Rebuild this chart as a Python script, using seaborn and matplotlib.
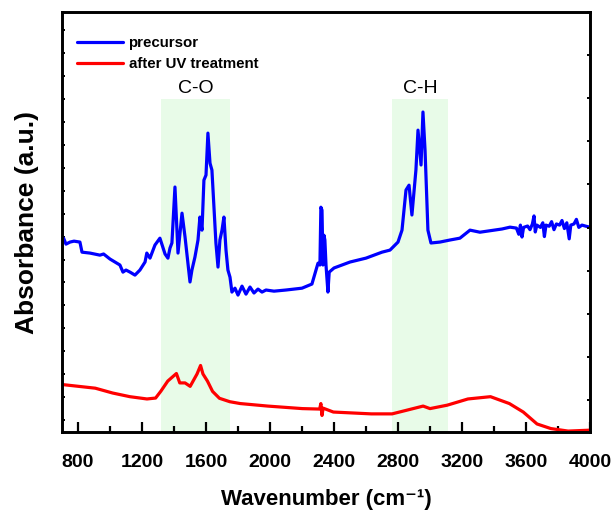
import matplotlib
matplotlib.use("Agg")
import matplotlib.pyplot as plt
from matplotlib.ticker import MultipleLocator, NullFormatter
import seaborn as sns
import pandas as pd

# FTIR spectra (wavenumber in cm^-1, absorbance in arbitrary units)
precursor_wn = [700, 710, 725, 750, 775, 812, 825, 875, 937, 960, 1000, 1062, 1081, 1100,
                1125, 1156, 1187, 1219, 1230, 1250, 1281, 1312, 1344, 1362, 1375, 1387,
                1406, 1425, 1450, 1469, 1487, 1500, 1512, 1531, 1550, 1562, 1575, 1587,
                1600, 1612, 1625, 1637, 1650, 1662, 1675, 1687, 1700, 1712, 1725, 1737,
                1750, 1762, 1781, 1800, 1825, 1850, 1875, 1900, 1925, 1950, 1975, 2025,
                2100, 2200, 2262, 2287, 2300, 2312, 2318, 2325, 2331, 2337, 2343, 2350,
                2362, 2370, 2400, 2500, 2600, 2700, 2750, 2800, 2825, 2850, 2869, 2887,
                2912, 2925, 2944, 2956, 2969, 2987, 3006, 3062, 3125, 3187, 3250, 3312,
                3400, 3450, 3500, 3540, 3555, 3565, 3575, 3585, 3610, 3625, 3640, 3650,
                3658, 3668, 3690, 3705, 3715, 3725, 3745, 3760, 3775, 3790, 3810, 3825,
                3840, 3855, 3870, 3880, 3900, 3915, 3930, 3950, 3975, 4000]
precursor_abs = [7.85, 7.93, 7.67, 7.76, 7.80, 7.76, 7.32, 7.28, 7.19, 7.24, 7.02, 6.76, 6.45, 6.54,
                 6.45, 6.32, 6.54, 6.89, 7.28, 7.06, 7.63, 7.93, 7.24, 7.06, 7.50, 7.72,
                 10.16, 7.28, 9.02, 7.98, 6.84, 6.02, 6.54, 7.11, 7.85, 8.85, 8.28, 10.46,
                 10.68, 12.51, 11.20, 10.90, 9.28, 7.72, 6.67, 7.85, 8.28, 8.85, 7.41, 6.54,
                 6.23, 5.58, 5.75, 5.45, 5.84, 5.49, 5.80, 5.54, 5.71, 5.58, 5.67, 5.62,
                 5.67, 5.75, 5.93, 6.54, 6.84, 6.76, 9.28, 9.15, 6.76, 8.06, 7.85, 6.76,
                 5.58, 6.45, 6.63, 6.89, 7.06, 7.32, 7.41, 7.76, 8.28, 10.03, 10.24, 8.94,
                 10.90, 12.64, 11.12, 13.43, 11.77, 8.28, 7.72, 7.76, 7.85, 7.93, 8.28, 8.19,
                 8.28, 8.33, 8.41, 8.37, 8.10, 8.50, 7.98, 8.40, 8.46, 8.30, 8.55, 8.90,
                 8.20, 8.50, 8.40, 8.60, 8.00, 8.50, 8.45, 8.65, 8.30, 8.55, 8.50, 8.70,
                 8.35, 8.60, 7.90, 8.50, 8.55, 8.75, 8.40, 8.50, 8.45, 8.41]

treated_wn = [700, 908, 1016, 1124, 1231, 1285, 1318, 1361, 1415, 1436, 1469, 1501, 1544,
              1566, 1581, 1609, 1641, 1684, 1749, 1814, 1986, 2202, 2310, 2318, 2325, 2332,
              2396, 2633, 2763, 2849, 2957, 3000, 3108, 3237, 3378, 3496, 3583, 3669,
              3755, 3863, 4000]
treated_abs = [1.55, 1.39, 1.18, 1.02, 0.92, 0.96, 1.26, 1.70, 2.03, 1.62, 1.62, 1.47, 2.01,
               2.38, 2.01, 1.70, 1.25, 0.95, 0.80, 0.72, 0.61, 0.50, 0.48, 0.72, 0.20, 0.52,
               0.35, 0.27, 0.27, 0.42, 0.61, 0.50, 0.65, 0.92, 1.02, 0.72, 0.35, -0.17,
               -0.37, -0.48, -0.44]

# Highlighted absorption bands
band_labels = ["C-O", "C-H"]
band_lo = [1320, 2765]
band_hi = [1750, 3115]

series_names = ["precursor", "after UV treatment"]
series_colors = ["#0000ff", "#ff0000"]

sns.set_style("ticks")
plt.rcParams["font.family"] = ["Liberation Sans", "DejaVu Sans"]
plt.rcParams.update({"text.color": "black", "axes.labelcolor": "black",
                     "axes.edgecolor": "black", "xtick.color": "black",
                     "ytick.color": "black"})

fig = plt.figure(figsize=(6.14, 5.12), dpi=100)
ax = fig.add_axes([62 / 614, 80 / 512, 528 / 614, 420 / 512])

ylo, yhi = -0.52, 17.79
band_top = 14.0
for lab, lo, hi in zip(band_labels, band_lo, band_hi):
    ax.fill_between([lo, hi], ylo, band_top, color="#e8fbe8", lw=0, zorder=0)
    ax.text((lo + hi) / 2, band_top + 0.45, lab, ha="center", va="center", fontsize=14)

df1 = pd.DataFrame({"wn": precursor_wn, "a": precursor_abs})
df2 = pd.DataFrame({"wn": treated_wn, "a": treated_abs})
sns.lineplot(data=df1, x="wn", y="a", color=series_colors[0], lw=2.3, estimator=None,
             sort=False, ax=ax, label=series_names[0])
sns.lineplot(data=df2, x="wn", y="a", color=series_colors[1], lw=2.3, estimator=None,
             sort=False, ax=ax, label=series_names[1])

ax.set_xlim(700, 4000)
ax.set_ylim(ylo, yhi)
ax.xaxis.set_major_locator(MultipleLocator(400))
ax.xaxis.set_minor_locator(MultipleLocator(200))
ax.yaxis.set_major_locator(MultipleLocator(1))
ax.yaxis.set_major_formatter(NullFormatter())
ax.tick_params(axis="x", which="major", direction="in", length=7.5, width=1.6, pad=16,
               labelsize=14)
ax.tick_params(axis="x", which="minor", direction="in", length=4, width=1.6)
ax.tick_params(axis="y", which="major", direction="in", length=2.5, width=1.4)
for lbl in ax.get_xticklabels():
    lbl.set_fontweight("bold")
for sp in ax.spines.values():
    sp.set_linewidth(1.9)
    sp.set_visible(True)

ax.set_xlabel("Wavenumber (cm\u207b\u00b9)", fontsize=16, fontweight="bold", labelpad=13)
ax.set_ylabel("Absorbance (a.u.)", fontsize=19, fontweight="bold", labelpad=13)

ax2 = ax.twinx()
ax2.set_ylim(-0.74, 9.0)
ax2.yaxis.set_major_locator(MultipleLocator(1))
ax2.yaxis.set_major_formatter(NullFormatter())
ax2.tick_params(axis="y", direction="in", length=2.5, width=1.4)
for sp in ax2.spines.values():
    sp.set_linewidth(1.9)

leg = ax.legend(loc="upper left", bbox_to_anchor=(0.028, 0.943), frameon=False,
                borderpad=0, borderaxespad=0, handlelength=3.1, handletextpad=0.35,
                labelspacing=0.5, prop={"weight": "bold", "size": 10.8})
for h in leg.get_lines():
    h.set_linewidth(2.3)

fig.savefig("out.png", dpi=100)
